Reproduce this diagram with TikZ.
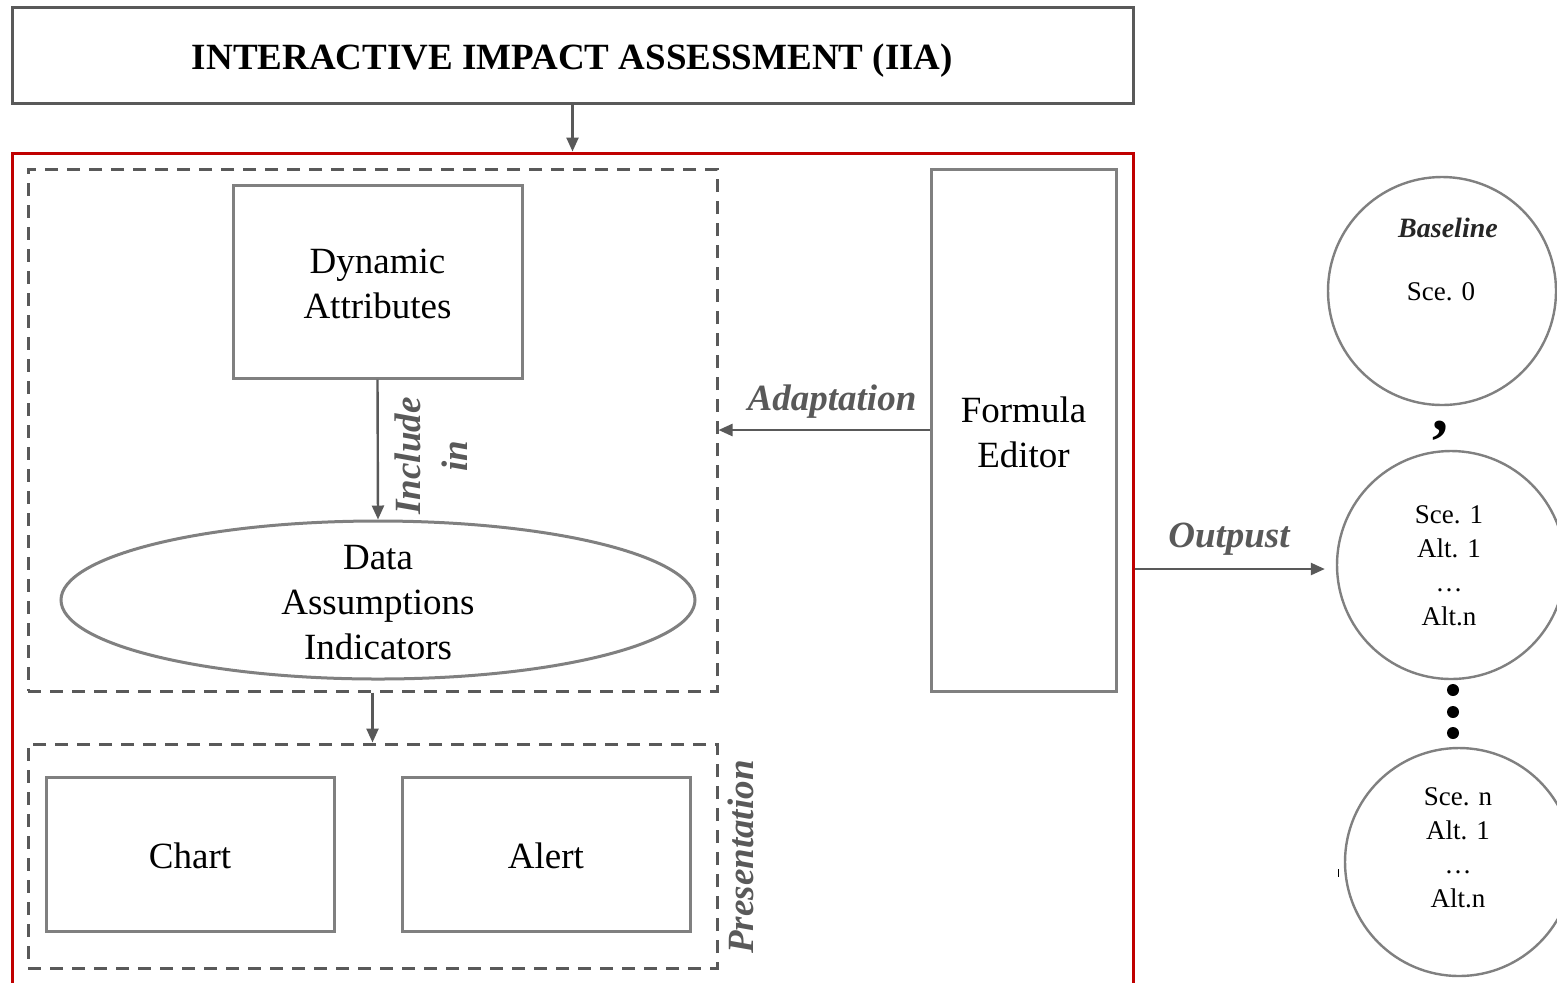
\documentclass[tikz,border=0pt]{standalone}
\usepackage{fontspec}
\setmainfont{Liberation Serif}
\usetikzlibrary{arrows.meta,shapes.geometric,fit}
\definecolor{boxgray}{HTML}{808080}
\definecolor{dgray}{HTML}{595959}
\definecolor{redline}{HTML}{C00000}
\begin{document}
\begin{tikzpicture}[x=0.5pt,y=-0.5pt,
 boxstyle/.style={draw=boxgray,line width=1.5pt,inner sep=0pt},
 btext/.style={inner sep=0pt,align=center,font=\fontsize{18.5}{22.5}\selectfont},
 dashbox/.style={draw=dgray,line width=1.5pt,dash pattern=on 6.5pt off 4.5pt,inner sep=0pt},
 arr/.style={draw=dgray,line width=1.2pt,-{Triangle[length=7pt,width=6pt]}},
 lbl/.style={text=dgray,font=\fontsize{18.5}{23.5}\selectfont\bfseries\itshape,inner sep=0pt},
 circ/.style={circle,draw=boxgray,line width=1.2pt,minimum size=114pt,inner sep=0pt},
 ctext/.style={font=\fontsize{13.5}{17}\selectfont,align=center,inner sep=0pt}]
\useasboundingbox (0,0) rectangle (1557,982);
\fill[white] (0,0) rectangle (1557,982);

% title
\node[fit={(12,7)(1133,103)}, draw=dgray, line width=1.5pt, inner sep=0pt] (title) {};
\node[btext, font=\fontsize{18.5}{22}\selectfont\bfseries] (titletext) at ([yshift=-3pt]title.center) {INTERACTIVE IMPACT ASSESSMENT (IIA)};
% red frame
\node[fit={(12,153)(1133,1000)}, draw=redline, line width=1.5pt, inner sep=0pt] (main) {};
\draw[arr] (title.south) -- (main.north);

% dashed box 1
\node[dashbox, fit={(28,169)(717,691)}] (d1) {};
\node[boxstyle, fit={(233,185)(522,378)}] (da) {};
\node[btext] (datext) at ([yshift=-1pt]da.center) {Dynamic\\Attributes};
\node[ellipse, draw=boxgray, line width=1.5pt, minimum width=317pt, minimum height=79pt,
      inner sep=0pt] (ell) at (378,600) {};
\node[btext] (elltext) at ([yshift=-1.5pt]ell.center) {Data\\Assumptions\\Indicators};
\draw[arr] (da.south) -- (ell.north);
\node[lbl, rotate=90, align=center] (inc) at (431,456) {Include\\in};

% formula editor
\node[boxstyle, fit={(931,169)(1116,691)}] (fe) {};
\node[btext] (fetext) at ([yshift=-1pt]fe.center) {Formula\\Editor};
\draw[arr] (fe.west) -- (fe.west -| d1.east);
\node[lbl] (adapt) at (832,402) {Adaptation};

% dashed box 2
\node[dashbox, fit={(28,744)(717,968)}] (d2) {};
\draw[arr] (d1.south) -- (d2.north);
\node[boxstyle, fit={(46,777)(334,931)}] (chart) {};
\node[btext] (charttext) at ([yshift=-1pt]chart.center) {Chart};
\node[boxstyle, fit={(402,777)(690,931)}] (alert) {};
\node[btext] (alerttext) at ([yshift=-1pt]alert.center) {Alert};
\node[lbl, rotate=90] (pres) at (741,857) {Presentation};

% circles
\node[circ] (c1) at (1442,291) {};
\node[ctext, font=\fontsize{14}{17}\selectfont\bfseries\itshape, text=black!85] (bl) at (1448,228) {Baseline};
\node[ctext] (s0) at (1441,292) {Sce. 0};
\node[circ] (c2) at (1451,565) {};
\node[ctext] (t2) at (1449,566) {Sce. 1\\Alt. 1\\\dots\\Alt.n};
\node[circ] (c3) at (1459,862) {};
\node[ctext] (t3) at (1458,848) {Sce. n\\Alt. 1\\\dots\\Alt.n};

\node[font=\fontsize{32}{32}\selectfont\bfseries, inner sep=0pt] (comma) at (1440,431) {,};
\fill[black] (1453,690) circle[radius=6];
\fill[black] (1453,712) circle[radius=6];
\fill[black] (1453,733) circle[radius=6];
\draw[black, line width=0.5pt] (1338,869) -- (1338,877);

\draw[arr, shorten >=5.5pt] ([yshift=-2pt]c2.west -| main.east) -- ([yshift=-2pt]c2.west);
\node[lbl] (outp) at (1229,539) {Outpust};
\end{tikzpicture}
\end{document}
